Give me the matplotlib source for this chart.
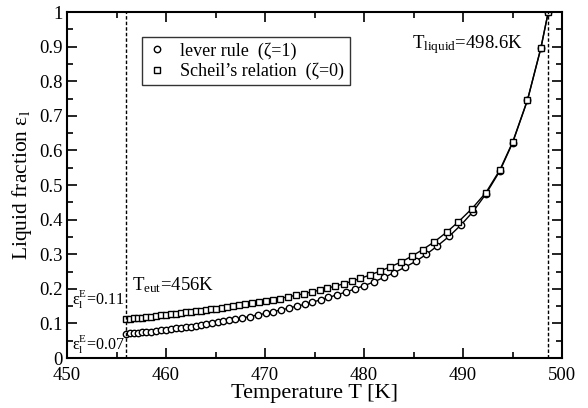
import matplotlib
matplotlib.use("Agg")
import matplotlib.pyplot as plt
from matplotlib.ticker import MultipleLocator

plt.rcParams['font.family'] = ['Liberation Serif', 'DejaVu Serif']
plt.rcParams['mathtext.fontset'] = 'custom'
plt.rcParams['mathtext.rm'] = 'Liberation Serif'
plt.rcParams['mathtext.it'] = 'Liberation Serif:italic'

# Lever rule (zeta = 1)
lever_T = [456.0, 456.4, 456.8, 457.2, 457.6, 458.0, 458.5, 459.0, 459.5, 460.0,
           460.5, 461.0, 461.5, 462.0, 462.5, 463.0, 463.5, 464.0, 464.6, 465.2,
           465.8, 466.4, 467.0, 467.7, 468.5, 469.3, 470.1, 470.8, 471.6, 472.4,
           473.2, 474.0, 474.7, 475.6, 476.4, 477.3, 478.2, 479.1, 480.0, 481.0,
           482.0, 483.0, 484.1, 485.25, 486.3, 487.4, 488.6, 489.8, 491.0, 492.3,
           493.7, 495.0, 496.5, 497.85, 498.6]
lever_fl = [0.070, 0.071, 0.072, 0.073, 0.074, 0.075, 0.076, 0.078, 0.080, 0.082,
            0.084, 0.086, 0.087, 0.089, 0.091, 0.093, 0.095, 0.097, 0.100, 0.103,
            0.106, 0.109, 0.112, 0.116, 0.120, 0.125, 0.129, 0.134, 0.139, 0.144,
            0.150, 0.155, 0.161, 0.168, 0.175, 0.183, 0.191, 0.200, 0.209, 0.220,
            0.233, 0.246, 0.262, 0.280, 0.300, 0.324, 0.352, 0.385, 0.423, 0.474,
            0.540, 0.622, 0.745, 0.895, 1.000]

# Scheil's relation (zeta = 0)
scheil_T = [456.0, 456.4, 456.8, 457.2, 457.6, 458.0, 458.5, 459.0, 459.5, 460.0,
            460.5, 461.0, 461.5, 462.0, 462.5, 463.0, 463.5, 464.0, 464.5, 465.0,
            465.6, 466.2, 466.8, 467.4, 468.0, 468.7, 469.4, 470.1, 470.8, 471.5,
            472.3, 473.1, 473.9, 474.7, 475.5, 476.3, 477.1, 478.0, 478.8, 479.6,
            480.6, 481.6, 482.6, 483.7, 484.8, 485.9, 487.1, 488.35, 489.5, 490.9,
            492.3, 493.7, 495.0, 496.5, 497.85, 498.6]
scheil_fl = [0.113, 0.114, 0.115, 0.116, 0.117, 0.118, 0.119, 0.121, 0.123, 0.125,
             0.126, 0.128, 0.130, 0.132, 0.133, 0.135, 0.137, 0.139, 0.141, 0.143,
             0.145, 0.148, 0.150, 0.153, 0.156, 0.159, 0.162, 0.165, 0.169, 0.172,
             0.177, 0.181, 0.186, 0.191, 0.196, 0.202, 0.208, 0.215, 0.222, 0.230,
             0.240, 0.251, 0.263, 0.277, 0.294, 0.313, 0.336, 0.364, 0.393, 0.432,
             0.478, 0.543, 0.624, 0.746, 0.896, 1.000]

T_eut = 456.0
T_liquid = 498.6

fig = plt.figure(figsize=(5.88, 4.08), dpi=100)
ax = fig.add_axes([0.114, 0.1225, 0.842, 0.848])

ax.plot(lever_T, lever_fl, '-', color='black', lw=1.0)
ax.plot(scheil_T, scheil_fl, '-', color='black', lw=1.0)
ax.plot(lever_T, lever_fl, 'o', ms=4.6, mfc='white', mec='black', mew=1.0,
        label='lever rule  (ζ=1)')
ax.plot(scheil_T, scheil_fl, 's', ms=3.8, mfc='white', mec='black', mew=1.0,
        label='Scheil’s relation  (ζ=0)')

ax.axvline(T_eut, color='black', ls=(0, (2.5, 1.5)), lw=1.0)
ax.axvline(T_liquid, color='black', ls=(0, (2.5, 1.5)), lw=1.0)

ax.set_xlim(450, 500)
ax.set_ylim(0, 1)
ax.xaxis.set_major_locator(MultipleLocator(10))
ax.xaxis.set_minor_locator(MultipleLocator(5))
ax.yaxis.set_major_locator(MultipleLocator(0.1))
ax.yaxis.set_minor_locator(MultipleLocator(0.05))
ax.set_yticks([0, 0.1, 0.2, 0.3, 0.4, 0.5, 0.6, 0.7, 0.8, 0.9, 1.0])
ax.set_yticklabels(['0', '0.1', '0.2', '0.3', '0.4', '0.5', '0.6', '0.7', '0.8', '0.9', '1'])
ax.tick_params(which='both', direction='in', top=True, right=True, labelsize=13.5)
ax.tick_params(axis='y', pad=3)
ax.tick_params(axis='x', pad=6.5)
ax.tick_params(which='major', length=7, width=1.2)
ax.tick_params(which='minor', length=4, width=1.2)
for s in ax.spines.values():
    s.set_linewidth(1.5)

ax.set_xlabel('Temperature T [K]', fontsize=16, labelpad=0)
ax.set_ylabel('Liquid fraction ε$_\\mathrm{l}$', fontsize=15.5, labelpad=4)

leg = ax.legend(loc='upper left', bbox_to_anchor=(0.152, 0.928), frameon=True,
                fancybox=False, edgecolor='black', fontsize=13, handlelength=1.0,
                handletextpad=0.8, borderpad=0.3, labelspacing=0.15,
                borderaxespad=0.0)
leg.get_frame().set_linewidth(1.0)

ax.text(484.8, 0.905, 'T$_\\mathrm{liquid}$=498.6K', fontsize=13.5, va='center')
ax.text(456.6, 0.211, 'T$_\\mathrm{eut}$=456K', fontsize=13.5, va='center')
ax.text(450.55, 0.168, 'ε$_\\mathrm{l}^\\mathrm{E}$=0.11', fontsize=11.5, va='center')
ax.text(450.55, 0.038, 'ε$_\\mathrm{l}^\\mathrm{E}$=0.07', fontsize=11.5, va='center')

fig.savefig('out.png', dpi=100)
